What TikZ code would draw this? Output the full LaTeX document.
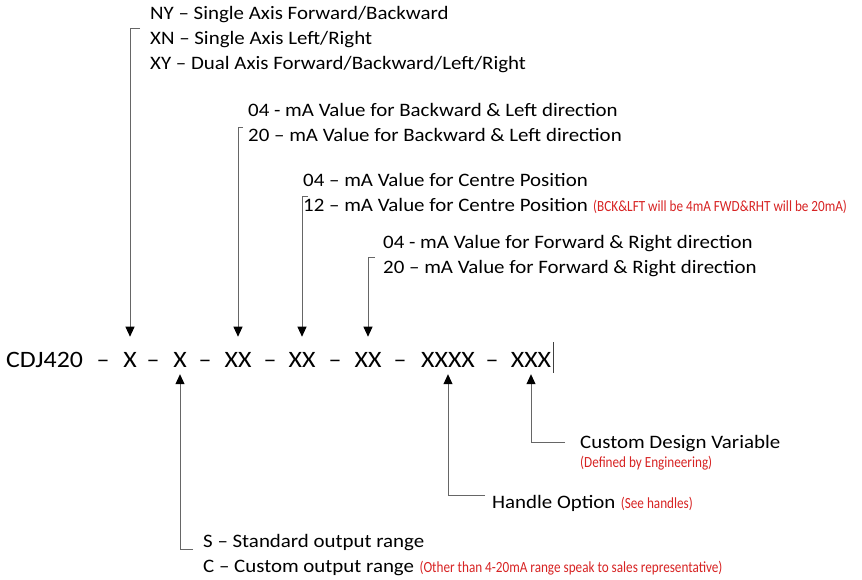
\documentclass[tikz,border=0pt]{standalone}
\usepackage{fontspec}
\setmainfont{Carlito}
\newfontfamily\widefont[FakeStretch=1.1]{Carlito}
\newfontfamily\narrowfont[FakeStretch=0.85]{Carlito}
\definecolor{notered}{RGB}{215,35,35}
\usetikzlibrary{arrows.meta}
\begin{document}
\begin{tikzpicture}[x=1pt,y=-1pt,
 lbl/.style={anchor=base west,inner sep=0pt,font=\widefont\fontsize{19}{21}\selectfont},
 tok/.style={anchor=base,inner xsep=0pt,inner ysep=7pt,font=\widefont\fontsize{23.5}{26}\selectfont},
 note/.style={anchor=base west,inner sep=0pt,text=notered,font=\narrowfont\fontsize{15.5}{17}\selectfont},
 conn/.style={draw=black!60,line width=0.9pt},
 arr/.style={conn,-{Triangle[length=10pt,width=9pt,black]}},
 darr/.style={arr,shorten >=8pt}
]
\useasboundingbox (0,0) rectangle (862,580);
% main code line
\node[tok] (cdj) at (44.5,367) {CDJ420};
\node[tok] (d1) at (103,367) {–};
\node[tok] (x1) at (130,367) {X};
\node[tok] (d2) at (153,367) {–};
\node[tok] (x2) at (180,367) {X};
\node[tok] (d3) at (205,367) {–};
\node[tok] (xx1) at (238,367) {XX};
\node[tok] (d4) at (270,367) {–};
\node[tok] (xx2) at (302,367) {XX};
\node[tok] (d5) at (335,367) {–};
\node[tok] (xx3) at (368,367) {XX};
\node[tok] (d6) at (400,367) {–};
\node[tok] (xxxx) at (448,367) {XXXX};
\node[tok] (d7) at (492,367) {–};
\node[tok] (xxx) at (531,367) {XXX};
\draw[black!75,line width=0.7pt] (553,342) -- (553,373);
% top labels
\node[lbl] (ny) at (150,20) {NY – Single Axis Forward/Backward};
\node[lbl] (xn) at (150,45) {XN – Single Axis Left/Right};
\node[lbl] (xy) at (150,70) {XY – Dual Axis Forward/Backward/Left/Right};
\node[lbl] (b04) at (248,117) {04 - mA Value for Backward \& Left direction};
\node[lbl] (b20) at (248,142) {20 – mA Value for Backward \& Left direction};
\node[lbl] (c04) at (303,187) {04 – mA Value for Centre Position};
\node[lbl] (c12) at (303,212) {12 – mA Value for Centre Position};
\node[note] (cn) at ([xshift=5pt]c12.base east) {(BCK\&LFT will be 4mA FWD\&RHT will be 20mA)};
\node[lbl] (f04) at (383,248) {04 - mA Value for Forward \& Right direction};
\node[lbl] (f20) at (383,273) {20 – mA Value for Forward \& Right direction};
% bottom labels
\node[lbl] (cdv) at (580,448) {Custom Design Variable};
\node[note] (dbe) at (580,467) {(Defined by Engineering)};
\node[lbl] (ho) at (492,508) {Handle Option};
\node[note] (hon) at ([xshift=5pt]ho.base east) {(See handles)};
\node[lbl] (s) at (203,547) {S – Standard output range};
\node[lbl] (c) at (203,572) {C – Custom output range};
\node[note] (cn2) at ([xshift=5pt]c.base east) {(Other than 4-20mA range speak to sales representative)};
% connectors
\coordinate (k1) at (140,28);
\coordinate (k2) at (243,127);
\coordinate (k3) at (308,196);
\coordinate (k4) at (375,257);
\coordinate (k5) at (193,549);
\coordinate (k6) at (485,495);
\coordinate (k7) at (565,442);
\draw[darr] (k1) -| (x1.north);
\draw[darr] (k2) -| (xx1.north);
\draw[darr] (k3) -| (xx2.north);
\draw[darr] (k4) -| (xx3.north);
\draw[arr] (k5) -| (x2.south);
\draw[arr] (k6) -| (xxxx.south);
\draw[arr] (k7) -| (xxx.south);
\end{tikzpicture}
\end{document}
